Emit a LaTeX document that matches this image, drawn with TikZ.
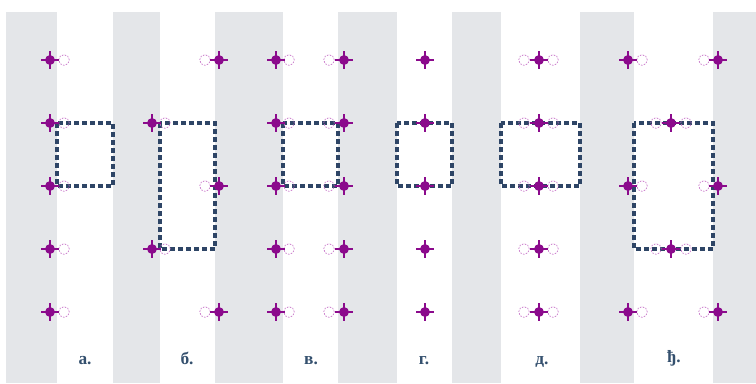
\documentclass[tikz,border=0pt]{standalone}
\usepackage{fontspec}
\setmainfont{Liberation Serif}
\usetikzlibrary{positioning}
\definecolor{stripe}{HTML}{E4E6E9}
\definecolor{atomc}{HTML}{8B0A8C}
\definecolor{ghostc}{HTML}{C56EC6}
\definecolor{cellc}{HTML}{2E4566}
\definecolor{labelc}{HTML}{34506E}

\tikzset{
  atom/.style={circle,fill=atomc,inner sep=0pt,minimum size=7.4pt},
  ghost/.style={circle,draw=ghostc,dash pattern=on 1.2pt off 1pt,line width=0.5pt,inner sep=0pt,minimum size=8pt},
  bond/.style={atomc,line width=0.8pt},
  cross/.style={atomc,line width=0.9pt},
  cell/.style={cellc,line width=2.4pt,dash pattern=on 3.6pt off 2.4pt},
  lbl/.style={text=labelc,anchor=base,font=\fontsize{13}{15}\selectfont\bfseries}
}
% dot with a thin cross through it
\newcommand{\atom}[3]{%
  \draw[cross] (#2-9,#3) -- (#2+9,#3) (#2,#3-9) -- (#2,#3+9);
  \node[atom] (#1) at (#2,#3) {};}

\begin{document}
\begin{tikzpicture}[x=0.75pt,y=-0.75pt]
  \useasboundingbox (0,0) rectangle (756,383);
  % stripes
  \foreach \xa/\xb in {6/57,113/160,215/283,338/397,452/501,580/634,713/756}
    \fill[stripe] (\xa,12) rectangle (\xb,383);

  % cells
  \draw[cell] (57,123) rectangle (113,186);
  \draw[cell] (160,123) rectangle (215,249);
  \draw[cell] (283,123) rectangle (338,186);
  \draw[cell] (397,123) rectangle (452,186);
  \draw[cell] (501,123) rectangle (580,186);
  \draw[cell] (634,123) rectangle (713,249);

  % a.
  \foreach \y [count=\r] in {60,123,186,249,312}{
    \node[ghost] (ag\r) at (64,\y) {};
    \atom{a\r}{50}{\y}
    \draw[bond] (a\r) -- (ag\r);
  }
  % b.
  \foreach \y [count=\r] in {60,186,312}{
    \node[ghost] (bRg\r) at (205,\y) {};
    \atom{bR\r}{219}{\y}
    \draw[bond] (bR\r) -- (bRg\r);
  }
  \foreach \y [count=\r] in {123,249}{
    \node[ghost] (bLg\r) at (165,\y) {};
    \atom{bL\r}{152}{\y}
    \draw[bond] (bL\r) -- (bLg\r);
  }
  % v.
  \foreach \y [count=\r] in {60,123,186,249,312}{
    \node[ghost] (vLg\r) at (289,\y) {};
    \atom{vL\r}{276}{\y}
    \draw[bond] (vL\r) -- (vLg\r);
    \node[ghost] (vRg\r) at (329,\y) {};
    \atom{vR\r}{344}{\y}
    \draw[bond] (vR\r) -- (vRg\r);
  }
  % g.
  \foreach \y [count=\r] in {60,123,186,249,312}{
    \atom{g\r}{425}{\y}
  }
  % d.
  \foreach \y [count=\r] in {60,123,186,249,312}{
    \node[ghost] (dl\r) at (524,\y) {};
    \node[ghost] (dr\r) at (553,\y) {};
    \atom{d\r}{539}{\y}
    \draw[bond] (d\r) -- (dl\r) (d\r) -- (dr\r);
  }
  % dj.
  \foreach \y [count=\r] in {60,186,312}{
    \node[ghost] (eLg\r) at (642,\y) {};
    \atom{eL\r}{628}{\y}
    \draw[bond] (eL\r) -- (eLg\r);
    \node[ghost] (eRg\r) at (704,\y) {};
    \atom{eR\r}{718}{\y}
    \draw[bond] (eR\r) -- (eRg\r);
  }
  \foreach \y [count=\r] in {123,249}{
    \node[ghost] (eml\r) at (656,\y) {};
    \node[ghost] (emr\r) at (686,\y) {};
    \atom{em\r}{671}{\y}
    \draw[bond] (em\r) -- (eml\r) (em\r) -- (emr\r);
  }

  % labels
  \node[lbl] (la) at (85,364) {а.};
  \node[lbl] (lb) at (187,364) {б.};
  \node[lbl] (lv) at (311,364) {в.};
  \node[lbl] (lg) at (424,364) {г.};
  \node[lbl] (ld) at (542,364) {д.};
  \node[lbl] (le) at (674,362) {ђ.};
\end{tikzpicture}
\end{document}
